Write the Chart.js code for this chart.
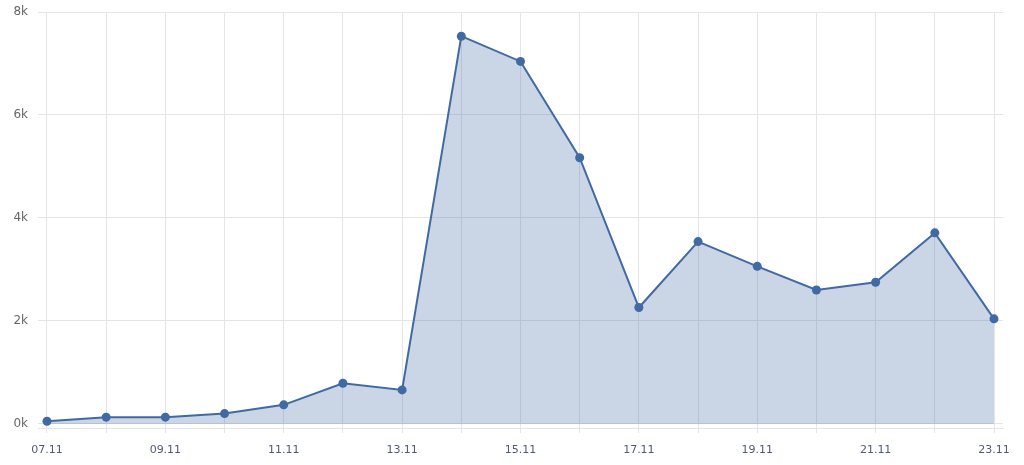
<!DOCTYPE html>
<html>
<head>
<meta charset="utf-8">
<script src="https://cdn.jsdelivr.net/npm/chart.js@4/dist/chart.umd.min.js"></script>
<style>
  html, body { margin: 0; padding: 0; background: #fff; }
  #wrap { width: 1024px; height: 465px; position: relative; }
</style>
</head>
<body>
<div id="wrap"><canvas id="chart"></canvas></div>
<script>
// dates along the x axis
const days = ['07.11', '08.11', '09.11', '10.11', '11.11', '12.11', '13.11', '14.11', '15.11',
    '16.11', '17.11', '18.11', '19.11', '20.11', '21.11', '22.11', '23.11'];
// daily values
const counts = [50, 130, 130, 200, 370, 790, 660, 7530, 7040, 5170, 2260, 3540, 3060, 2600, 2750, 3710, 2040];
// y tick values
const yTicks = [0, 2000, 4000, 6000, 8000];

const lineColor = '#4169a3';
const gridColor = '#e5e5e5';

const ctx = document.getElementById('chart').getContext('2d');
new Chart(ctx, {
    type: 'line',
    data: {
        datasets: [{
            data: counts.map((v, i) => ({ x: i, y: v })),
            borderColor: lineColor,
            borderWidth: 2,
            backgroundColor: 'rgba(65, 105, 163, 0.28)',
            fill: 'origin',
            tension: 0,
            pointRadius: 4.5,
            pointBackgroundColor: lineColor,
            pointBorderColor: lineColor,
            pointBorderWidth: 0
        }]
    },
    options: {
        responsive: true,
        maintainAspectRatio: false,
        animation: false,
        layout: { padding: { top: 12, right: 21, left: 0, bottom: 0 } },
        plugins: {
            legend: { display: false },
            tooltip: { enabled: false }
        },
        scales: {
            x: {
                type: 'linear',
                min: -0.152,
                max: days.length - 1 + 0.152,
                afterBuildTicks: axis => {
                    axis.ticks = days.map((d, i) => ({ value: i }));
                },
                afterFit: axis => {
                    axis.height = 37;
                    axis.paddingLeft = 0;
                    axis.paddingRight = 0;
                },
                grid: { color: gridColor, tickLength: 5, drawOnChartArea: true },
                border: { color: gridColor },
                ticks: {
                    autoSkip: false,
                    maxRotation: 0,
                    padding: 11,
                    color: '#4e5d75',
                    font: { family: 'DejaVu Sans', size: 11 },
                    callback: v => (v % 2 === 0 ? days[v] : '')
                }
            },
            y: {
                min: -80,
                max: 8000,
                afterBuildTicks: axis => {
                    axis.ticks = yTicks.map(v => ({ value: v }));
                },
                afterFit: axis => {
                    axis.width = 38;
                    axis.paddingTop = 0;
                    axis.paddingBottom = 0;
                },
                grid: { color: gridColor, drawTicks: false },
                border: { display: false },
                ticks: {
                    padding: 10,
                    color: '#666666',
                    font: { family: 'DejaVu Sans', size: 12 },
                    callback: v => (v / 1000) + 'k'
                }
            }
        }
    }
});
</script>
</body>
</html>
